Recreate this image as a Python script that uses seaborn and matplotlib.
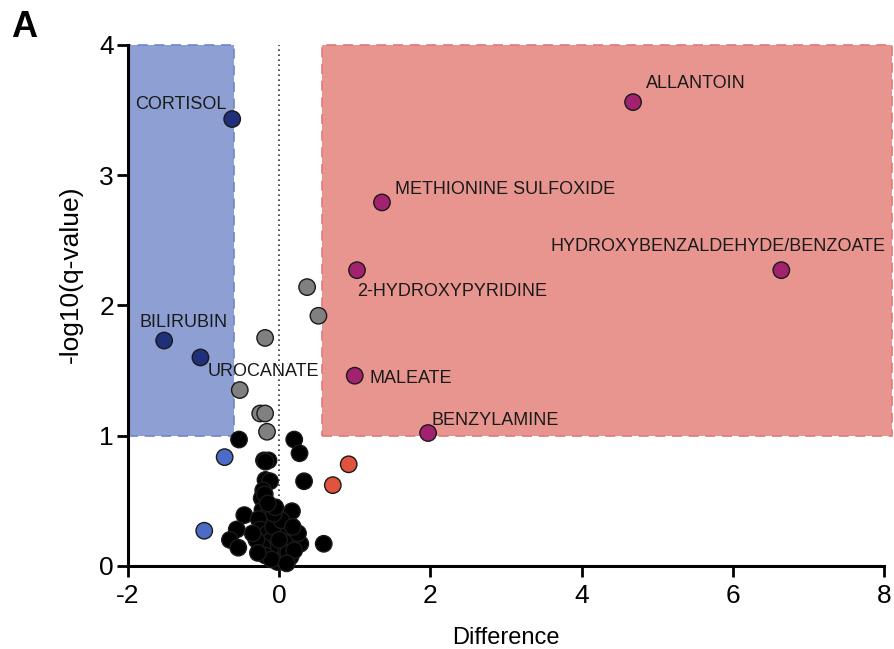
import pandas as pd
import matplotlib
matplotlib.use("Agg")
import matplotlib.pyplot as plt
import matplotlib.patches as mpatches
import seaborn as sns

sns.set_theme(style="white")
plt.rcParams["font.family"] = ["Liberation Sans", "DejaVu Sans"]
plt.rcParams["axes.unicode_minus"] = False
plt.rcParams["text.color"] = "black"
plt.rcParams["axes.labelcolor"] = "black"
plt.rcParams["xtick.color"] = "black"
plt.rcParams["ytick.color"] = "black"

# non-significant metabolites
ns_diff = [-0.53, 0.20, 0.27, -0.20, -0.14, -0.18, 0.33, -0.18, -0.12, -0.21,
           -0.23, -0.19, 0.17, -0.46, -0.22, -0.16, -0.12, -0.27, -0.56, -0.65,
           -0.54, 0.59, 0.28, 0.10, 0.15, -0.03, 0.15, -0.25, -0.20, -0.15,
           -0.10, -0.05, 0.00, 0.05, -0.12, -0.22, -0.30, 0.02, 0.08, -0.08,
           -0.02, 0.06, 0.12, 0.20, -0.18, -0.10, 0.25, -0.35, -0.28, 0.03,
           -0.07, 0.10, -0.05, 0.00, -0.15, 0.18]
ns_q = [0.97, 0.97, 0.865, 0.81, 0.81, 0.80, 0.65, 0.66, 0.65, 0.58,
        0.52, 0.55, 0.42, 0.39, 0.43, 0.38, 0.33, 0.36, 0.28, 0.20,
        0.14, 0.17, 0.17, 0.28, 0.22, 0.06, 0.07, 0.28, 0.22, 0.25,
        0.20, 0.15, 0.10, 0.12, 0.12, 0.15, 0.20, 0.25, 0.18, 0.30,
        0.03, 0.04, 0.10, 0.12, 0.08, 0.05, 0.25, 0.25, 0.10, 0.35,
        0.40, 0.02, 0.45, 0.20, 0.48, 0.30]

# q-significant but small difference
grey_diff = [-0.25, -0.185, -0.16, -0.185, 0.37, 0.52, -0.52]
grey_q = [1.17, 1.17, 1.03, 1.75, 2.14, 1.92, 1.35]

# large difference, not q-significant
down_diff = [-0.72, -0.99]
down_q = [0.835, 0.27]
up_diff = [0.92, 0.71]
up_q = [0.78, 0.62]

# significant hits
low_names = ["CORTISOL", "BILIRUBIN", "UROCANATE"]
low_diff = [-0.62, -1.52, -1.04]
low_q = [3.43, 1.73, 1.60]

high_names = ["ALLANTOIN", "METHIONINE SULFOXIDE", "HYDROXYBENZALDEHYDE/BENZOATE",
              "2-HYDROXYPYRIDINE", "MALEATE", "BENZYLAMINE"]
high_diff = [4.68, 1.36, 6.64, 1.03, 1.00, 1.97]
high_q = [3.56, 2.79, 2.27, 2.27, 1.46, 1.02]

groups = ["ns", "grey", "down", "up", "low", "high"]
colors = {"ns": "#000000", "grey": "#808080", "down": "#4a6cc4",
          "up": "#e0533f", "low": "#1f2f7a", "high": "#a3226f"}

df = pd.concat([
    pd.DataFrame({"diff": ns_diff, "q": ns_q, "grp": "ns"}),
    pd.DataFrame({"diff": grey_diff, "q": grey_q, "grp": "grey"}),
    pd.DataFrame({"diff": down_diff, "q": down_q, "grp": "down"}),
    pd.DataFrame({"diff": up_diff, "q": up_q, "grp": "up"}),
    pd.DataFrame({"diff": low_diff, "q": low_q, "grp": "low"}),
    pd.DataFrame({"diff": high_diff, "q": high_q, "grp": "high"}),
], ignore_index=True)

fig = plt.figure(figsize=(8.94, 6.49), dpi=100)
ax = fig.add_axes([0.143, 0.128, 0.846, 0.803])

# shaded regions
ax.add_patch(mpatches.Rectangle((-2, 1), 1.4, 3, facecolor="#8e9fd4",
                                edgecolor="#6f86c8", lw=1.2, ls=(0, (6, 4)),
                                clip_on=False, zorder=0))
ax.add_patch(mpatches.Rectangle((0.57, 1), 7.53, 3, facecolor="#e8958f",
                                edgecolor="#e07a76", lw=1.2, ls=(0, (6, 4)),
                                clip_on=False, zorder=0))
ax.plot([0, 0], [0, 4], color="#333333", ls=(0, (1, 2)), lw=1.2, zorder=1)

sns.scatterplot(data=df, x="diff", y="q", hue="grp", hue_order=groups,
                palette=colors, s=140, edgecolor="#1a1a1a", linewidth=1.0,
                legend=False, ax=ax, zorder=3, clip_on=False)

# labels
lbl = dict(fontsize=13, color="#1a1a1a")
ax.text(-0.69, 3.54, "CORTISOL", ha="right", va="center", **lbl)
ax.text(-1.26, 1.87, "BILIRUBIN", ha="center", va="center", **lbl)
ax.text(-0.95, 1.49, "UROCANATE", ha="left", va="center", **lbl)
ax.text(4.85, 3.70, "ALLANTOIN", ha="left", va="center", **lbl)
ax.text(1.53, 2.89, "METHIONINE SULFOXIDE", ha="left", va="center", **lbl)
ax.text(8.02, 2.45, "HYDROXYBENZALDEHYDE/BENZOATE", ha="right", va="center", **lbl)
ax.text(1.03, 2.11, "2-HYDROXYPYRIDINE", ha="left", va="center", **lbl)
ax.text(1.19, 1.44, "MALEATE", ha="left", va="center", **lbl)
ax.text(2.01, 1.12, "BENZYLAMINE", ha="left", va="center", **lbl)

ax.set_xlim(-2, 8)
ax.set_ylim(0, 4)
ax.set_xticks([-2, 0, 2, 4, 6, 8])
ax.set_yticks([0, 1, 2, 3, 4])
ax.set_xlabel("Difference", fontsize=17, labelpad=14)
ax.set_ylabel("-log10(q-value)", fontsize=19)
ax.yaxis.set_label_coords(-0.06, 0.56)
ax.tick_params(axis="both", labelsize=19, length=8, width=2, direction="out",
               color="black", left=True, bottom=True)
ax.tick_params(axis="x", pad=5)
ax.tick_params(axis="y", pad=2)
sns.despine(ax=ax)
for side in ["left", "bottom"]:
    ax.spines[side].set_linewidth(2.2)
    ax.spines[side].set_color("black")
ax.set_facecolor("white")

fig.text(0.012, 0.93, "A", fontsize=26, fontweight="bold", va="bottom")

fig.savefig("out.png", dpi=100)
